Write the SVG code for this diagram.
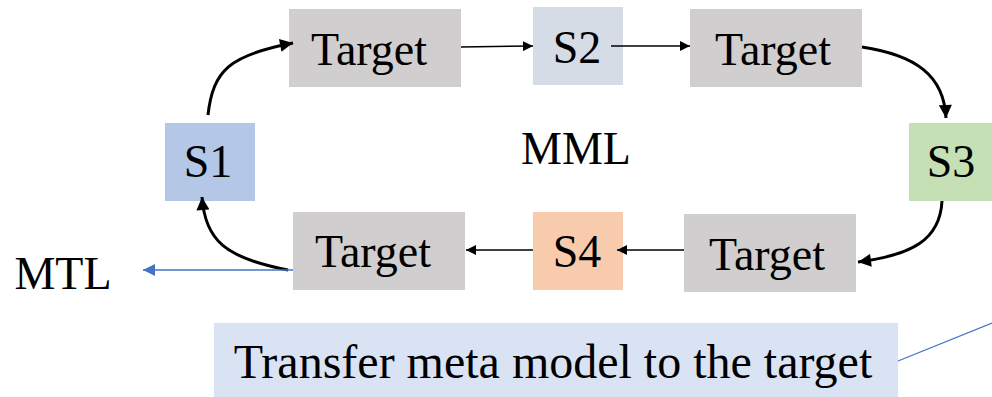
<svg xmlns="http://www.w3.org/2000/svg" width="992" height="397" viewBox="0 0 992 397">
  <style>
    .lbl { font-family: "Liberation Serif", "Times New Roman", serif; font-size: 46px; fill: #000; text-anchor: middle; }
    .target { fill: #D0CECE; }
    .thin { fill: none; stroke: #000; stroke-width: 1.5; }
    .thick { fill: none; stroke: #000; stroke-width: 3; }
  </style>
  <defs>
    <marker id="ah" viewBox="0 0 10 10" refX="10" refY="5" markerWidth="12" markerHeight="10" markerUnits="userSpaceOnUse" orient="auto">
      <path d="M0,0 L10,5 L0,10 z" fill="#000"/>
    </marker>
    <marker id="ahb" viewBox="0 0 10 10" refX="10" refY="5" markerWidth="16" markerHeight="13" markerUnits="userSpaceOnUse" orient="auto">
      <path d="M0,0 L10,5 L0,10 z" fill="#000"/>
    </marker>
    <marker id="ahblue" viewBox="0 0 10 10" refX="10" refY="5" markerWidth="16" markerHeight="12" markerUnits="userSpaceOnUse" orient="auto">
      <path d="M0,0 L10,5 L0,10 z" fill="#4472C4"/>
    </marker>
  </defs>

  <rect width="992" height="397" fill="#fff"/>

  <g id="target1"><rect class="target" x="289" y="9" width="172" height="78"/><text class="lbl" x="369" y="65">Target</text></g>
  <g id="s2"><rect x="533" y="7" width="90" height="78" fill="#D6DCE5"/><text class="lbl" x="577" y="63">S2</text></g>
  <g id="target2"><rect class="target" x="690" y="9" width="172" height="78"/><text class="lbl" x="773" y="65">Target</text></g>
  <g id="s1"><rect x="165" y="123" width="90" height="78" fill="#B4C7E7"/><text class="lbl" x="208" y="177">S1</text></g>
  <g id="mml"><text class="lbl" x="576" y="164">MML</text></g>
  <g id="s3"><rect x="909" y="123" width="90" height="78" fill="#C5E0B4"/><text class="lbl" x="951" y="177">S3</text></g>
  <g id="target3"><rect class="target" x="293" y="212" width="172" height="78"/><text class="lbl" x="373" y="267">Target</text></g>
  <g id="s4"><rect x="533" y="212" width="90" height="78" fill="#F8CBAD"/><text class="lbl" x="577" y="267">S4</text></g>
  <g id="target4"><rect class="target" x="684" y="214" width="172" height="78"/><text class="lbl" x="767" y="270">Target</text></g>
  <g id="mtl"><text class="lbl" x="63" y="289">MTL</text></g>
  <g id="note"><rect x="214" y="323" width="684" height="74" fill="#DAE3F3"/><text class="lbl" x="553" y="378" style="font-size:48px">Transfer meta model to the target</text></g>

  <g id="connectors">
    <path class="thin" d="M461,47 L533,46" marker-end="url(#ah)"/>
    <path class="thin" d="M611,46 L690,46" marker-end="url(#ah)"/>
    <path class="thick" d="M862,47 C915,55 944,75 946,118" marker-end="url(#ahb)"/>
    <path class="thick" d="M942,201 C940,240 912,255 858,262" marker-end="url(#ahb)"/>
    <path class="thin" d="M684,250 L617,250" marker-end="url(#ah)"/>
    <path class="thin" d="M533,250 L466,250" marker-end="url(#ah)"/>
    <path class="thick" d="M288,270 C225,258 205,240 202,197" marker-end="url(#ahb)"/>
    <path class="thick" d="M208,115 C213,70 230,55 293,43" marker-end="url(#ahb)"/>
    <path fill="none" stroke="#4472C4" stroke-width="1.5" d="M293,270 L143,270" marker-end="url(#ahblue)"/>
    <path fill="none" stroke="#4472C4" stroke-width="1.2" d="M898,361 L992,323"/>
  </g>
</svg>
